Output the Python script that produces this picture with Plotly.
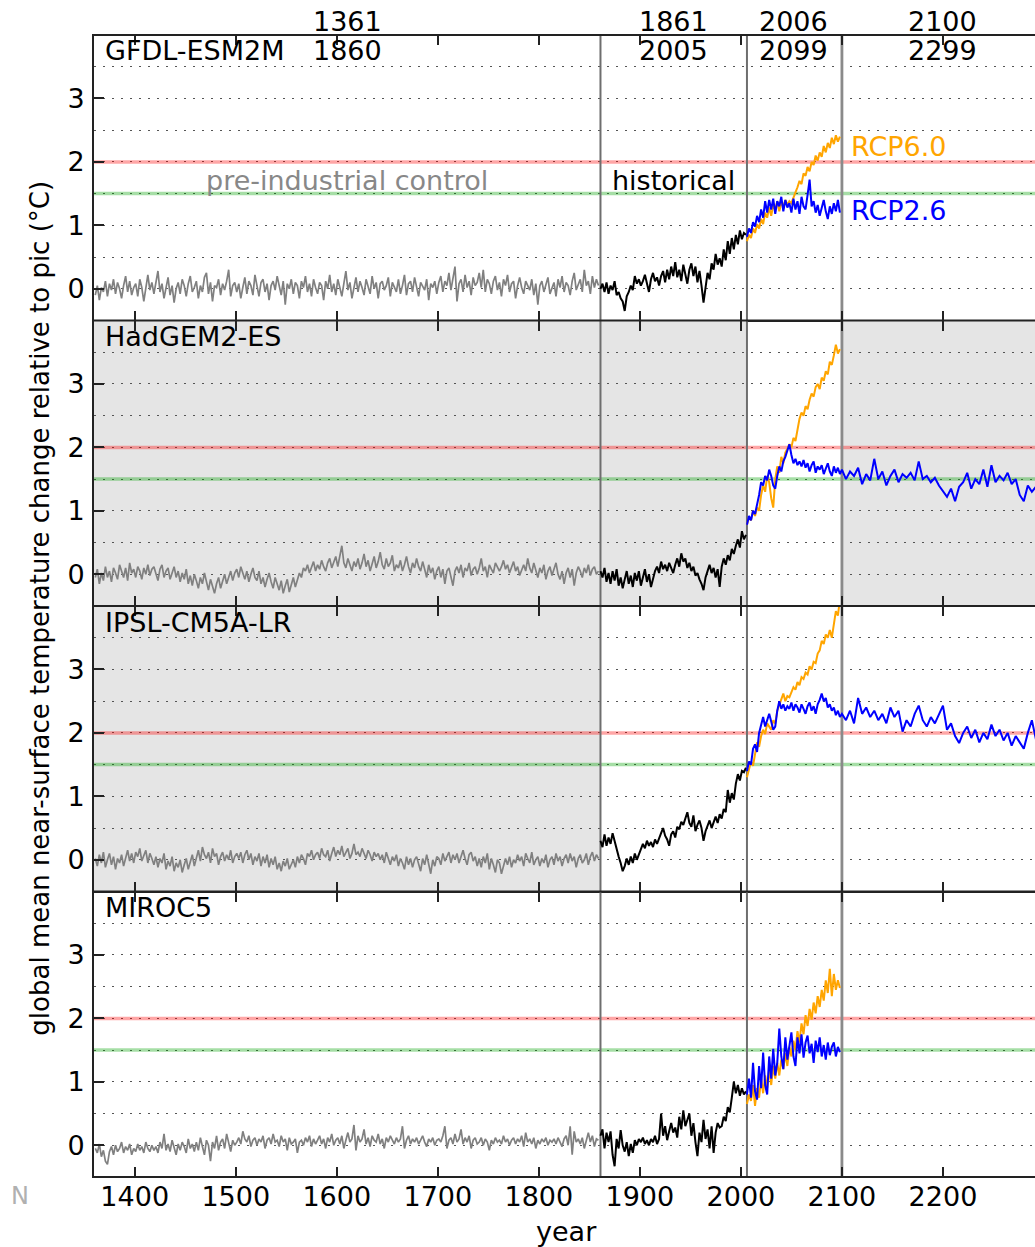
import plotly.graph_objects as go
from plotly.subplots import make_subplots

# ---------------- data ----------------
models = ["GFDL-ESM2M", "HadGEM2-ES", "IPSL-CM5A-LR", "MIROC5"]

# time axes: start year and step of each sampled series
pi_start, pi_step = 1361, 2
hist_start, hist_step = 1861, 2
rcp_start, rcp_step = 2006, 2
ext_start, ext_step = 2100, 4

period_first = [1361, 1861, 2006, 2100]
period_last = [1860, 2005, 2099, 2299]
x_ticks = [1400, 1500, 1600, 1700, 1800, 1900, 2000, 2100, 2200]
y_ticks = [0, 1, 2, 3]
y_grid_minor = [0.5, 1.5, 2.5, 3.5]
period_lines = [1861, 2006, 2100]
threshold_2 = 2.0
threshold_15 = 1.5

gfdl_pi = [-0.10, 0.05, -0.18, 0.02, -0.05, 0.12, -0.12, 0.08, -0.02, 0.15,
           -0.08, 0.10, 0.00, -0.15, 0.05, 0.20, -0.05, 0.12, -0.10, 0.02,
           0.08, -0.12, 0.15, 0.02, -0.20, 0.05, 0.22, -0.02, 0.10, -0.08,
           0.12, 0.28, -0.05, 0.08, -0.15, 0.02, 0.18, -0.10, 0.05, -0.22,
           0.00, 0.10, -0.08, 0.15, 0.05, -0.12, 0.08, 0.20, -0.05, 0.02,
           0.12, -0.15, 0.05, -0.05, 0.18, 0.25, -0.08, 0.10, -0.20, 0.05,
           0.02, 0.15, -0.10, 0.08, -0.02, 0.12, 0.30, -0.12, 0.05, 0.10,
           -0.05, 0.08, -0.15, 0.02, 0.18, -0.08, 0.12, 0.05, -0.10, 0.22,
           0.02, -0.12, 0.10, 0.15, -0.05, 0.08, -0.18, 0.05, 0.12, -0.02,
           0.20, 0.05, -0.10, 0.12, -0.25, 0.08, 0.00, 0.15, -0.08, 0.10,
           0.05, -0.15, 0.12, 0.02, 0.20, -0.05, 0.08, -0.12, 0.15, 0.02,
           -0.08, 0.10, 0.05, -0.18, 0.12, 0.00, 0.22, -0.05, 0.08, -0.10,
           0.15, 0.02, -0.12, 0.08, 0.28, -0.02, 0.10, -0.15, 0.05, 0.18,
           -0.05, 0.12, 0.02, -0.10, 0.15, 0.05, -0.08, 0.20, 0.00, 0.10,
           -0.15, 0.08, 0.12, -0.02, 0.05, 0.18, -0.12, 0.10, 0.02, -0.05,
           0.15, -0.08, 0.05, 0.22, -0.10, 0.08, 0.12, -0.05, 0.18, 0.02,
           -0.12, 0.10, 0.05, -0.02, 0.15, -0.18, 0.08, 0.02, 0.12, -0.08,
           0.10, 0.20, -0.05, 0.12, 0.05, 0.25, -0.02, 0.15, 0.35, -0.20,
           0.08, 0.15, -0.05, 0.22, 0.02, 0.12, -0.10, 0.18, 0.05, 0.10,
           0.25, 0.02, 0.30, -0.05, 0.15, 0.08, -0.08, 0.12, 0.20, -0.02,
           0.10, -0.12, 0.15, 0.05, 0.22, -0.05, 0.08, 0.12, -0.15, 0.05,
           0.18, 0.02, -0.08, 0.12, 0.05, -0.02, 0.15, -0.10, 0.08, -0.25,
           0.05, 0.12, -0.05, 0.08, 0.18, -0.08, 0.02, 0.10, -0.12, 0.15,
           0.02, 0.20, -0.05, 0.10, 0.05, -0.10, 0.12, 0.25, -0.02, 0.08,
           0.15, -0.05, 0.30, 0.05, 0.12, -0.08, 0.20, 0.02, 0.15, 0.05]
gfdl_hist = [0.00, 0.08, -0.05, 0.10, -0.08, 0.05, -0.02, 0.12, -0.10, -0.05,
             -0.15, -0.20, -0.35, -0.12, -0.05, 0.05, -0.02, 0.20, 0.08, 0.15,
             0.05, 0.12, 0.22, 0.10, -0.05, 0.15, 0.25, 0.12, 0.18, 0.05,
             0.20, 0.28, 0.10, 0.30, 0.15, 0.35, 0.20, 0.42, 0.18, 0.30,
             0.12, 0.38, 0.25, 0.08, 0.30, 0.40, 0.20, 0.35, 0.10, 0.28,
             0.05, -0.22, 0.02, 0.25, 0.15, 0.40, 0.30, 0.55, 0.38, 0.48,
             0.35, 0.62, 0.45, 0.75, 0.55, 0.80, 0.62, 0.85, 0.70, 0.92,
             0.78, 0.88, 0.85]
gfdl_rcp26 = [0.82, 0.95, 0.88, 1.05, 0.98, 1.15, 1.05, 1.25, 1.12, 1.38,
              1.20, 1.40, 1.25, 1.42, 1.18, 1.38, 1.30, 1.45, 1.22, 1.40,
              1.28, 1.35, 1.20, 1.42, 1.25, 1.38, 1.18, 1.45, 1.30, 1.25,
              1.48, 1.72, 1.30, 1.38, 1.20, 1.32, 1.15, 1.28, 1.40, 1.22,
              1.10, 1.30, 1.18, 1.35, 1.22, 1.40, 1.20]
gfdl_rcp60 = [0.75, 0.85, 0.80, 0.95, 0.88, 1.02, 0.95, 1.10, 1.02, 1.20,
              1.12, 1.28, 1.15, 1.32, 1.25, 1.38, 1.22, 1.35, 1.30, 1.40,
              1.32, 1.38, 1.35, 1.45, 1.52, 1.60, 1.70, 1.65, 1.82, 1.78,
              1.92, 1.85, 2.00, 1.95, 2.10, 2.02, 2.15, 2.08, 2.25, 2.15,
              2.30, 2.22, 2.38, 2.28, 2.42, 2.32, 2.40]
gfdl_rcp26_ext = []

hadgem_pi = [-0.05, 0.08, -0.15, 0.02, -0.10, 0.12, -0.05, 0.05, -0.12, 0.10,
             0.02, -0.08, 0.15, 0.05, -0.05, 0.10, -0.10, 0.18, 0.02, 0.08,
             -0.05, 0.12, 0.05, -0.08, 0.10, 0.00, 0.15, -0.02, 0.08, 0.12,
             0.02, -0.10, 0.08, 0.15, -0.05, 0.05, 0.10, -0.08, 0.02, 0.12,
             -0.05, 0.05, -0.12, 0.02, -0.08, 0.08, -0.15, -0.02, -0.18, 0.00,
             -0.10, -0.22, -0.05, -0.15, 0.02, -0.12, -0.25, -0.08, -0.18, -0.30,
             -0.15, -0.05, -0.22, -0.10, 0.00, -0.15, -0.05, 0.05, -0.10, 0.02,
             0.08, -0.05, 0.12, 0.02, -0.08, 0.05, -0.12, 0.00, 0.10, -0.05,
             -0.10, 0.05, -0.15, -0.05, -0.20, -0.08, 0.02, -0.12, -0.22, -0.05,
             -0.15, -0.25, -0.10, -0.30, -0.18, -0.08, -0.28, -0.15, -0.05, -0.20,
             -0.10, 0.02, -0.05, 0.10, 0.05, 0.15, 0.02, 0.12, 0.20, 0.05,
             0.15, 0.08, 0.22, 0.12, 0.05, 0.18, 0.25, 0.10, 0.20, 0.28,
             0.12, 0.30, 0.45, 0.18, 0.10, 0.25, 0.15, 0.05, 0.20, 0.12,
             0.25, 0.08, 0.18, 0.32, 0.12, 0.22, 0.05, 0.15, 0.28, 0.10,
             0.20, 0.35, 0.15, 0.08, 0.25, 0.12, 0.18, 0.30, 0.05, 0.15,
             0.10, 0.22, 0.05, 0.15, 0.28, 0.12, 0.02, 0.18, 0.10, 0.25,
             0.12, 0.05, 0.20, 0.08, -0.05, 0.15, 0.02, 0.10, -0.08, 0.05,
             0.12, -0.05, 0.08, -0.15, 0.05, 0.10, -0.02, -0.18, 0.05, 0.12,
             0.02, 0.15, -0.05, 0.10, 0.05, 0.18, -0.02, 0.08, 0.12, 0.00,
             0.10, 0.25, 0.05, 0.12, -0.05, 0.15, 0.08, 0.02, 0.18, 0.10,
             0.05, 0.12, 0.22, 0.08, 0.15, 0.02, 0.10, 0.20, 0.05, 0.12,
             -0.02, 0.08, 0.15, 0.05, 0.25, 0.10, 0.02, 0.18, 0.08, -0.05,
             0.10, 0.02, 0.15, -0.08, 0.05, 0.12, -0.02, 0.08, 0.18, 0.00,
             -0.08, 0.05, -0.15, 0.02, 0.10, -0.05, 0.08, -0.18, 0.02, 0.12,
             0.05, -0.05, 0.10, 0.02, 0.15, -0.02, 0.08, 0.12, 0.00, 0.05]
hadgem_hist = [0.05, -0.05, 0.10, -0.12, 0.02, -0.15, 0.05, -0.10, 0.08, -0.18,
               -0.05, -0.22, -0.08, 0.05, -0.15, -0.02, -0.20, 0.02, -0.10, 0.05,
               -0.18, -0.05, 0.08, -0.12, 0.00, -0.20, -0.05, 0.05, 0.12, 0.02,
               0.20, 0.08, 0.15, 0.05, 0.18, 0.10, 0.02, 0.15, 0.25, 0.12,
               0.33, 0.20, 0.25, 0.10, 0.18, 0.05, 0.12, -0.02, 0.02, -0.08,
               -0.15, -0.25, -0.05, 0.05, 0.15, 0.02, 0.10, -0.05, 0.08, -0.20,
               0.12, 0.25, 0.15, 0.30, 0.22, 0.40, 0.32, 0.45, 0.55, 0.42,
               0.68, 0.55, 0.62]
hadgem_rcp26 = [0.78, 0.92, 0.85, 1.00, 0.95, 1.08, 1.25, 1.45, 1.40, 1.55,
                1.48, 1.65, 1.55, 1.40, 1.35, 1.55, 1.70, 1.62, 1.78, 1.85,
                1.95, 2.05, 1.88, 1.75, 1.82, 1.72, 1.78, 1.70, 1.80, 1.68,
                1.75, 1.62, 1.72, 1.78, 1.60, 1.70, 1.65, 1.72, 1.58, 1.68,
                1.75, 1.62, 1.55, 1.70, 1.60, 1.68, 1.58]
hadgem_rcp60 = [0.78, 0.90, 0.85, 1.00, 0.92, 1.05, 1.00, 1.25, 1.40, 1.30,
                1.55, 1.45, 1.20, 1.05, 1.50, 1.70, 1.60, 1.85, 1.75, 1.92,
                1.98, 2.05, 2.00, 2.15, 2.10, 2.30, 2.45, 2.55, 2.50, 2.65,
                2.60, 2.75, 2.85, 2.80, 2.95, 3.00, 2.92, 3.10, 3.05, 3.20,
                3.15, 3.35, 3.30, 3.45, 3.62, 3.48, 3.55]
hadgem_rcp26_ext = [1.65, 1.50, 1.62, 1.55, 1.68, 1.42, 1.58, 1.48, 1.82, 1.50,
                    1.62, 1.40, 1.55, 1.65, 1.45, 1.58, 1.52, 1.60, 1.48, 1.78,
                    1.50, 1.55, 1.45, 1.52, 1.40, 1.30, 1.22, 1.35, 1.15, 1.38,
                    1.45, 1.60, 1.35, 1.50, 1.42, 1.65, 1.38, 1.72, 1.45, 1.55,
                    1.48, 1.60, 1.42, 1.50, 1.25, 1.15, 1.40, 1.30, 1.38, 1.25]

ipsl_pi = [0.02, -0.10, 0.08, -0.05, 0.12, -0.12, 0.00, 0.10, -0.08, 0.05,
           -0.15, 0.02, -0.05, 0.08, -0.10, 0.05, 0.15, -0.02, 0.10, -0.05,
           0.12, 0.05, 0.18, -0.02, 0.08, 0.15, -0.05, 0.10, 0.02, -0.08,
           0.05, -0.12, 0.02, -0.05, 0.10, -0.15, -0.02, -0.10, 0.05, -0.18,
           -0.05, -0.12, 0.00, -0.20, -0.08, 0.02, -0.15, -0.05, 0.08, -0.10,
           0.05, 0.15, -0.02, 0.20, 0.08, 0.02, 0.12, -0.05, 0.18, 0.05,
           0.10, -0.08, 0.05, 0.12, -0.02, 0.08, 0.00, 0.15, -0.05, 0.05,
           0.10, 0.02, 0.12, -0.05, 0.08, 0.15, 0.00, 0.10, -0.08, 0.05,
           -0.02, 0.10, -0.10, 0.05, -0.05, 0.08, -0.12, 0.02, -0.08, 0.05,
           -0.15, -0.05, -0.18, -0.02, -0.10, 0.02, -0.15, -0.08, 0.00, -0.12,
           0.05, -0.05, 0.08, 0.02, -0.08, 0.10, 0.05, 0.15, 0.00, 0.08,
           0.12, 0.02, 0.18, 0.08, 0.05, 0.15, -0.02, 0.10, 0.20, 0.05,
           0.15, 0.08, 0.22, 0.05, 0.12, 0.18, 0.02, 0.10, 0.25, 0.08,
           0.12, 0.05, 0.18, 0.10, 0.02, 0.15, 0.08, -0.02, 0.12, 0.05,
           0.10, 0.00, 0.08, -0.05, 0.12, 0.02, -0.08, 0.05, -0.02, 0.08,
           -0.10, 0.02, -0.05, -0.15, 0.05, -0.08, 0.02, -0.12, 0.00, 0.05,
           -0.05, -0.18, 0.02, -0.08, 0.08, -0.05, -0.22, 0.00, -0.10, 0.05,
           0.02, -0.08, 0.10, -0.02, 0.05, 0.12, -0.05, 0.08, 0.00, 0.10,
           -0.05, 0.05, 0.15, 0.02, -0.08, 0.08, 0.12, -0.02, 0.05, -0.10,
           0.02, -0.12, 0.05, -0.05, 0.10, -0.15, 0.02, -0.08, -0.20, 0.00,
           -0.05, -0.22, -0.10, 0.02, -0.08, 0.05, -0.12, 0.00, -0.05, 0.08,
           -0.02, 0.05, -0.10, 0.10, 0.02, -0.05, 0.12, -0.08, 0.00, 0.05,
           -0.10, 0.02, -0.05, 0.08, -0.12, 0.00, 0.05, -0.08, 0.10, -0.02,
           0.05, -0.10, 0.02, 0.08, -0.05, 0.10, -0.02, 0.05, -0.12, 0.02,
           0.08, -0.05, 0.00, 0.10, -0.08, 0.05, 0.12, -0.02, 0.08, 0.02]
ipsl_hist = [0.30, 0.20, 0.40, 0.22, 0.35, 0.25, 0.42, 0.28, 0.15, 0.05,
             -0.05, -0.18, -0.10, 0.02, -0.08, 0.05, -0.05, 0.10, 0.00, 0.08,
             0.15, 0.25, 0.18, 0.30, 0.22, 0.28, 0.20, 0.32, 0.25, 0.35,
             0.42, 0.50, 0.38, 0.32, 0.22, 0.40, 0.45, 0.35, 0.52, 0.48,
             0.60, 0.55, 0.65, 0.75, 0.58, 0.52, 0.70, 0.45, 0.55, 0.62,
             0.50, 0.30, 0.45, 0.55, 0.62, 0.50, 0.60, 0.68, 0.58, 0.72,
             0.65, 0.80, 0.75, 1.10, 0.90, 1.05, 0.95, 1.20, 1.35, 1.25,
             1.40, 1.38, 1.45]
ipsl_rcp26 = [1.40, 1.55, 1.50, 1.75, 1.82, 1.70, 2.00, 2.15, 2.25, 2.10,
              2.20, 2.30, 2.18, 2.05, 2.10, 2.35, 2.50, 2.38, 2.45, 2.35,
              2.42, 2.38, 2.48, 2.35, 2.45, 2.40, 2.32, 2.45, 2.38, 2.30,
              2.42, 2.48, 2.35, 2.42, 2.30, 2.45, 2.52, 2.62, 2.50, 2.55,
              2.40, 2.45, 2.35, 2.40, 2.28, 2.35, 2.25]
ipsl_rcp60 = [1.30, 1.45, 1.55, 1.48, 1.70, 1.85, 1.78, 1.95, 2.05, 1.98,
              2.15, 2.10, 2.05, 2.20, 2.15, 2.35, 2.45, 2.55, 2.62, 2.50,
              2.58, 2.56, 2.65, 2.72, 2.68, 2.80, 2.75, 2.88, 2.85, 2.95,
              2.92, 3.05, 3.00, 3.12, 3.10, 3.25, 3.30, 3.45, 3.40, 3.55,
              3.50, 3.62, 3.50, 3.75, 3.92, 3.85, 4.10]
ipsl_rcp26_ext = [2.30, 2.20, 2.35, 2.15, 2.55, 2.30, 2.40, 2.25, 2.35, 2.20,
                  2.30, 2.15, 2.40, 2.25, 2.35, 2.02, 2.20, 2.10, 2.30, 2.43,
                  2.20, 2.10, 2.25, 2.15, 2.30, 2.43, 2.05, 2.15, 1.95, 1.84,
                  2.00, 2.10, 1.92, 2.05, 1.85, 2.00, 1.90, 2.13, 1.95, 2.05,
                  1.88, 2.00, 1.80, 1.95, 1.85, 1.75, 2.00, 2.20, 1.90, 1.85]

miroc_pi = [-0.05, -0.12, 0.02, -0.18, -0.08, -0.25, -0.30, -0.10, -0.02, -0.15,
            0.00, -0.10, -0.05, 0.05, -0.12, -0.02, -0.08, 0.02, -0.15, -0.05,
            -0.10, 0.02, -0.08, -0.02, -0.12, 0.05, -0.05, -0.10, 0.00, -0.08,
            -0.02, -0.12, 0.05, -0.05, 0.18, -0.08, 0.02, -0.10, 0.08, -0.05,
            -0.15, 0.02, -0.08, 0.05, -0.02, -0.12, 0.10, -0.05, 0.02, -0.10,
            0.05, -0.08, 0.12, -0.02, -0.15, 0.08, 0.00, -0.25, 0.05, -0.05,
            0.15, -0.08, 0.05, 0.10, -0.05, 0.18, 0.02, -0.10, 0.08, 0.00,
            0.05, 0.12, 0.02, 0.22, 0.10, 0.05, 0.15, -0.02, 0.08, 0.12,
            0.00, 0.10, 0.05, 0.15, -0.05, 0.08, 0.12, 0.02, 0.18, 0.05,
            0.08, -0.02, 0.15, 0.05, 0.10, -0.08, 0.12, 0.02, 0.05, 0.10,
            -0.12, 0.05, 0.08, 0.00, 0.12, 0.05, 0.15, -0.02, 0.10, 0.02,
            0.08, 0.15, 0.02, 0.10, -0.05, 0.12, 0.05, 0.18, 0.00, 0.08,
            0.12, 0.02, 0.15, -0.05, 0.08, 0.20, 0.05, 0.10, 0.32, -0.08,
            0.15, 0.05, 0.10, 0.25, 0.02, 0.12, -0.02, 0.15, 0.08, 0.05,
            0.18, 0.02, 0.10, -0.05, 0.12, 0.05, 0.15, 0.08, 0.02, 0.12,
            0.05, 0.10, 0.30, -0.05, 0.08, 0.15, 0.02, 0.10, 0.05, 0.12,
            0.02, 0.08, 0.15, 0.05, -0.02, 0.10, 0.05, 0.12, 0.00, 0.08,
            0.10, 0.05, 0.15, 0.30, -0.05, 0.08, 0.12, 0.02, 0.18, 0.05,
            0.10, 0.25, 0.02, 0.12, 0.05, 0.15, -0.05, 0.08, 0.12, 0.02,
            0.05, 0.12, 0.00, 0.10, 0.05, -0.08, 0.08, 0.02, 0.12, 0.05,
            0.08, 0.02, 0.15, 0.05, 0.10, 0.00, 0.08, 0.12, 0.02, 0.10,
            0.05, 0.15, -0.02, 0.20, 0.05, 0.10, 0.02, 0.12, -0.05, 0.08,
            0.02, 0.10, 0.05, 0.12, 0.00, 0.08, 0.05, 0.10, 0.02, 0.12,
            0.05, -0.02, 0.10, 0.15, 0.00, 0.30, -0.15, 0.22, 0.05, 0.10,
            0.02, 0.12, -0.05, 0.08, 0.20, 0.05, 0.15, -0.02, 0.10, 0.08]
miroc_hist = [0.15, 0.25, -0.05, 0.20, 0.05, 0.22, -0.15, -0.33, 0.10, -0.05,
              0.24, 0.00, -0.10, 0.05, -0.17, 0.02, -0.12, 0.08, 0.00, 0.10,
              0.05, 0.12, 0.02, 0.08, 0.00, 0.10, 0.05, 0.15, 0.02, 0.10,
              0.50, 0.15, 0.30, 0.08, 0.22, 0.35, 0.20, 0.28, 0.12, 0.45,
              0.25, 0.55, 0.30, 0.40, 0.50, 0.15, 0.35, 0.05, -0.17, 0.20,
              0.05, 0.40, 0.10, 0.25, -0.05, 0.30, -0.12, 0.20, 0.35, 0.28,
              0.30, 0.45, 0.38, 0.60, 0.52, 0.75, 1.00, 0.82, 0.95, 0.78,
              0.90, 0.80, 0.85]
miroc_rcp26 = [0.80, 1.05, 0.75, 1.30, 0.85, 0.72, 1.25, 0.90, 1.46, 0.95,
               0.80, 1.40, 1.05, 1.52, 1.10, 1.30, 1.84, 1.40, 1.20, 1.70,
               1.35, 1.55, 1.78, 1.40, 1.25, 1.70, 1.45, 1.75, 1.38, 1.62,
               1.73, 1.45, 1.60, 1.30, 1.65, 1.47, 1.70, 1.40, 1.58, 1.35,
               1.62, 1.42, 1.55, 1.62, 1.40, 1.55, 1.47]
miroc_rcp60 = [0.65, 0.80, 0.70, 0.95, 0.62, 0.90, 0.75, 1.05, 0.82, 1.10,
               0.90, 1.20, 0.95, 1.25, 1.05, 1.30, 1.10, 1.35, 1.20, 1.45,
               1.25, 1.55, 1.40, 1.65, 1.50, 1.80, 1.62, 1.92, 1.75, 2.05,
               1.88, 2.15, 1.98, 2.25, 2.08, 2.35, 2.18, 2.45, 2.28, 2.60,
               2.40, 2.78, 2.35, 2.70, 2.45, 2.60, 2.48]
miroc_rcp26_ext = []

panel_data = [
    (gfdl_pi, gfdl_hist, gfdl_rcp60, gfdl_rcp26, gfdl_rcp26_ext),
    (hadgem_pi, hadgem_hist, hadgem_rcp60, hadgem_rcp26, hadgem_rcp26_ext),
    (ipsl_pi, ipsl_hist, ipsl_rcp60, ipsl_rcp26, ipsl_rcp26_ext),
    (miroc_pi, miroc_hist, miroc_rcp60, miroc_rcp26, miroc_rcp26_ext),
]
# shaded (grey background) year spans per panel
shaded_spans = [
    [],
    [(1300, 2006), (2100, 2400)],
    [(1300, 1861)],
    [],
]

# ---------------- styling ----------------
FONT = "DejaVu Sans"
FS = 27
X_RANGE = [1359.7, 2291.1]
Y_RANGE = [-0.5, 4.0]
GRID = dict(gridcolor="#555555", gridwidth=1.3, griddash="2px,7px")
AXLINE = "#222222"


def yrs(start, step, n):
    return [start + step * k for k in range(n)]


fig = make_subplots(rows=4, cols=1, shared_xaxes=True, vertical_spacing=0)

for i, (pi, hist, r60, r26, r26x) in enumerate(panel_data):
    row = i + 1
    fig.add_trace(go.Scatter(x=yrs(pi_start, pi_step, len(pi)), y=pi, mode="lines",
                             line=dict(color="#808080", width=1.7)), row=row, col=1)
    fig.add_trace(go.Scatter(x=yrs(hist_start, hist_step, len(hist)), y=hist, mode="lines",
                             line=dict(color="black", width=2)), row=row, col=1)
    fig.add_trace(go.Scatter(x=yrs(rcp_start, rcp_step, len(r60)), y=r60, mode="lines",
                             line=dict(color="#ffa500", width=2)), row=row, col=1)
    x26 = yrs(rcp_start, rcp_step, len(r26)) + yrs(ext_start, ext_step, len(r26x))
    fig.add_trace(go.Scatter(x=x26, y=list(r26) + list(r26x), mode="lines",
                             line=dict(color="#0000ff", width=2)), row=row, col=1)

    xr = "x" if row == 1 else f"x{row}"
    yr = "y" if row == 1 else f"y{row}"
    for (a, b) in shaded_spans[i]:
        fig.add_shape(type="rect", xref=xr, yref=yr, x0=a, x1=b, y0=-1, y1=5,
                      fillcolor="#e5e5e5", line=dict(width=0), layer="below")
    fig.add_shape(type="line", xref=xr, yref=yr, x0=1300, x1=2400, y0=threshold_2, y1=threshold_2,
                  line=dict(color="rgba(255,0,0,0.35)", width=3.5), layer="between")
    fig.add_shape(type="line", xref=xr, yref=yr, x0=1300, x1=2400, y0=threshold_15, y1=threshold_15,
                  line=dict(color="rgba(0,160,0,0.35)", width=3.5), layer="between")
    for k, yv in enumerate(period_lines):
        fig.add_shape(type="line", xref=xr, yref=yr, x0=yv, x1=yv, y0=-1, y1=5,
                      line=dict(color="#8a8a8a" if k == 2 else "#6e6e6e", width=2.8 if k == 2 else 2),
                      layer="between")

    fig.update_yaxes(row=row, col=1, range=Y_RANGE, tickvals=y_ticks,
                     ticks="inside", ticklen=10, tickwidth=1.5, tickcolor=AXLINE,
                     showline=True, linecolor=AXLINE, linewidth=2, mirror=False,
                     zeroline=False, showgrid=True, **GRID,
                     minor=dict(tickvals=y_grid_minor, showgrid=True, ticks="", **GRID),
                     tickfont=dict(family=FONT, size=FS, color="black"),
                     ticklabelstandoff=2)
    fig.update_xaxes(row=row, col=1, range=X_RANGE, tickvals=x_ticks,
                     ticks="inside", ticklen=10, tickwidth=1.5, tickcolor=AXLINE,
                     showline=True, linecolor=AXLINE, linewidth=1, mirror="ticks",
                     zeroline=False, showgrid=False,
                     tickfont=dict(family=FONT, size=FS, color="black"),
                     ticklabelstandoff=-4)

# frame lines: outer top / bottom and the boundaries between panels
for yb in (0, 0.25, 0.5, 0.75, 1):
    fig.add_shape(type="line", xref="paper", yref="paper", x0=0, x1=1, y0=yb, y1=yb,
                  line=dict(color=AXLINE, width=2), layer="above")

# ---------------- annotations ----------------
TOP, BOT = 35, 1177
H = BOT - TOP
L, W = 94.3, 940.7


def py(pix):
    return (BOT - pix) / H


def px(pix):
    return (pix - L) / W


ann = []
for a, b in zip(period_first, period_last):
    mid = (a + b) / 2
    ann.append(dict(x=mid, y=py(21), xref="x", yref="paper", text=str(a), showarrow=False,
                    xanchor="center", yanchor="middle", font=dict(family=FONT, size=FS, color="black")))
    ann.append(dict(x=mid, y=py(51), xref="x", yref="paper", text=str(b), showarrow=False,
                    xanchor="center", yanchor="middle", font=dict(family=FONT, size=FS, color="black")))

for name, ypix in zip(models, [51, 336, 622, 907]):
    ann.append(dict(x=px(103), y=py(ypix), xref="paper", yref="paper", text=name, showarrow=False,
                    xanchor="left", yanchor="middle", font=dict(family=FONT, size=FS, color="black")))

ann.append(dict(x=(period_first[0] + period_last[0]) / 2, y=py(180), xref="x", yref="paper",
                text="pre-industrial control", showarrow=False, xanchor="center", yanchor="middle",
                font=dict(family=FONT, size=FS, color="#888888")))
ann.append(dict(x=(period_first[1] + period_last[1]) / 2, y=py(180), xref="x", yref="paper",
                text="historical", showarrow=False, xanchor="center", yanchor="middle",
                font=dict(family=FONT, size=FS, color="black")))
ann.append(dict(x=2107, y=py(147), xref="x", yref="paper", text="RCP6.0", showarrow=False,
                xanchor="left", yanchor="middle", font=dict(family=FONT, size=FS, color="#ffa500")))
ann.append(dict(x=2107, y=py(211), xref="x", yref="paper", text="RCP2.6", showarrow=False,
                xanchor="left", yanchor="middle", font=dict(family=FONT, size=FS, color="#0000ff")))
ann.append(dict(x=px(567), y=py(1231), xref="paper", yref="paper", text="year", showarrow=False,
                xanchor="center", yanchor="middle", font=dict(family=FONT, size=FS, color="black")))
ann.append(dict(x=px(40), y=py(608), xref="paper", yref="paper",
                text="global mean near-surface temperature change relative to pic (°C)",
                showarrow=False, textangle=-90, xanchor="center", yanchor="middle",
                font=dict(family=FONT, size=26, color="black")))
ann.append(dict(x=px(9), y=py(1196), xref="paper", yref="paper", text="N", showarrow=False,
                xanchor="left", yanchor="middle", font=dict(family=FONT, size=24, color="#b0b0b0")))

fig.update_layout(width=1035, height=1247, margin=dict(l=94, r=0, t=35, b=70),
                  plot_bgcolor="white", paper_bgcolor="white", showlegend=False,
                  annotations=ann, font=dict(family=FONT, size=FS, color="black"))

fig.write_html(
    "out.html",
    config={"displayModeBar": False},
    post_script="document.documentElement.style.margin='0';document.body.style.margin='0';"
                "document.documentElement.style.overflow='hidden';document.body.style.overflow='hidden';",
)
